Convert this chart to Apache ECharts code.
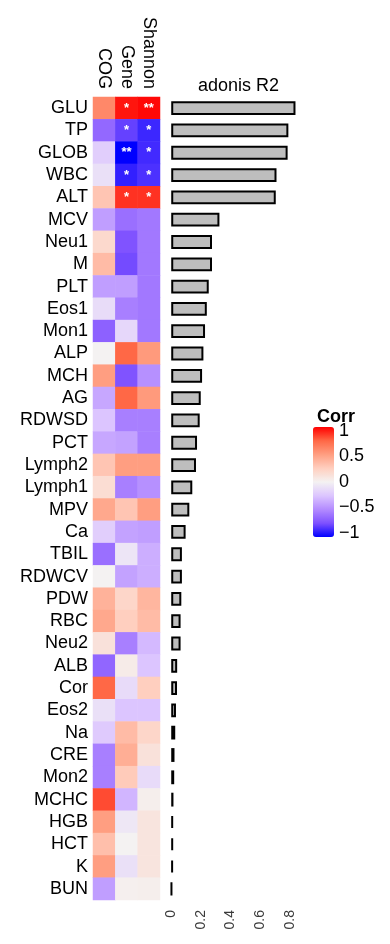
<!DOCTYPE html>
<html>
<head>
<meta charset="utf-8">
<script src="https://cdn.jsdelivr.net/npm/echarts@6/dist/echarts.min.js"></script>
<style>
  html, body { margin: 0; padding: 0; background: #fff; }
  #chart { width: 390px; height: 944px; }
</style>
</head>
<body>
<div id="chart"></div>
<script>
// 指标 vs 多样性 相关热图 + adonis R2 条形图

const columns = ['COG', 'Gene', 'Shannon']
const rows = ['GLU', 'TP', 'GLOB', 'WBC', 'ALT', 'MCV', 'Neu1', 'M', 'PLT', 'Eos1',
  'Mon1', 'ALP', 'MCH', 'AG', 'RDWSD', 'PCT', 'Lymph2', 'Lymph1', 'MPV', 'Ca',
  'TBIL', 'RDWCV', 'PDW', 'RBC', 'Neu2', 'ALB', 'Cor', 'Eos2', 'Na', 'CRE',
  'Mon2', 'MCHC', 'HGB', 'HCT', 'K', 'BUN']

const cogCorr = [0.6, -0.65, -0.2, -0.1, 0.3, -0.42, 0.18, 0.35, -0.42, -0.12,
  -0.68, 0.0, 0.5, -0.38, -0.25, -0.38, 0.3, 0.15, 0.45, -0.2,
  -0.62, 0.0, 0.4, 0.45, 0.12, -0.66, 0.75, -0.1, -0.22, -0.55,
  -0.55, 0.82, 0.5, 0.33, 0.5, -0.42]
const geneCorr = [0.95, -0.8, -1.0, -0.9, 0.88, -0.62, -0.74, -0.77, -0.42, -0.55,
  -0.15, 0.75, -0.74, 0.75, -0.55, -0.4, 0.5, -0.55, 0.3, -0.4,
  -0.07, -0.4, 0.2, 0.25, -0.55, 0.05, -0.13, -0.25, 0.35, 0.42,
  0.27, -0.32, -0.06, 0.0, -0.1, 0.02]
const shannonCorr = [0.98, -0.88, -0.87, -0.85, 0.88, -0.58, -0.58, -0.58, -0.58, -0.58,
  -0.58, 0.52, -0.48, 0.52, -0.55, -0.55, 0.5, -0.48, 0.5, -0.42,
  -0.35, -0.35, 0.38, 0.35, -0.3, -0.25, 0.25, -0.25, 0.2, 0.12,
  -0.13, 0.03, 0.1, 0.1, 0.1, 0.03]

const geneStars = ['*', '*', '**', '*', '*']
const shannonStars = ['**', '*', '*', '*', '*']

const adonisR2 = [0.838, 0.79, 0.785, 0.71, 0.705, 0.325, 0.275, 0.275, 0.253, 0.24,
  0.228, 0.217, 0.208, 0.199, 0.192, 0.174, 0.167, 0.142, 0.122, 0.097,
  0.072, 0.072, 0.068, 0.063, 0.063, 0.04, 0.039, 0.032, 0.027, 0.022,
  0.02, 0.015, 0.013, 0.013, 0.012, 0.003]

const r2Ticks = [0, 0.2, 0.4, 0.6, 0.8]
const corrTicks = [-1, -0.5, 0, 0.5, 1]

const FONT = '"Liberation Sans", Arial, sans-serif'
const corrColors = ['#0000ff', '#7e51ff', '#b38bff', '#dcc5ff', '#f4f2f2',
  '#ffcfbf', '#ff9e81', '#ff6846', '#ff0000']

const heatData = []
const corrCols = [cogCorr, geneCorr, shannonCorr]
const starCols = [[], geneStars, shannonStars]
corrCols.forEach((col, xi) => {
  col.forEach((v, yi) => {
    heatData.push({ value: [xi, yi, v], star: starCols[xi][yi] || '' })
  })
})

const chart = echarts.init(document.getElementById('chart'), null, { renderer: 'canvas' })

chart.setOption({
  backgroundColor: '#fff',
  animation: false,
  textStyle: { fontFamily: FONT },
  title: [
    {
      text: 'adonis R2', left: 233.5, top: 72, textAlign: 'center',
      textStyle: { fontFamily: FONT, fontSize: 18, fontWeight: 'normal', color: '#000' },
    },
    {
      text: 'Corr', left: 312, top: 403,
      textStyle: { fontFamily: FONT, fontSize: 18, fontWeight: 'bold', color: '#000' },
    },
  ],
  grid: [
    { left: 93, top: 97, width: 67, height: 803 },
    { left: 165, top: 97, width: 137, height: 803 },
    { left: 313, top: 431, width: 21, height: 102 },
  ],
  xAxis: [
    {
      gridIndex: 0, type: 'category', data: columns, position: 'top',
      axisLine: { show: false }, axisTick: { show: false }, splitLine: { show: false },
      axisLabel: { interval: 0, rotate: 90, margin: 8, fontSize: 18, color: '#000', fontFamily: FONT },
    },
    {
      gridIndex: 1, type: 'value', min: -0.042, max: 0.882,
      splitLine: { show: false },
      axisLine: { lineStyle: { color: '#000', width: 2 } },
      axisTick: { length: 6, lineStyle: { color: '#000', width: 2 }, customValues: r2Ticks },
      axisLabel: {
        rotate: 90, margin: 10, fontSize: 14, color: '#3a3a3a', fontFamily: FONT,
        customValues: r2Ticks,
      },
    },
    { gridIndex: 2, type: 'value', show: false, min: 0, max: 1 },
  ],
  yAxis: [
    {
      gridIndex: 0, type: 'category', data: rows, inverse: true,
      axisLine: { show: false }, axisTick: { show: false },
      axisLabel: { interval: 0, margin: 5, fontSize: 18, color: '#000', fontFamily: FONT },
    },
    {
      gridIndex: 1, type: 'category', data: rows, inverse: true,
      axisLine: { show: false }, axisTick: { show: false }, axisLabel: { show: false },
    },
    {
      gridIndex: 2, type: 'value', min: -1, max: 1, position: 'right',
      splitLine: { show: false }, axisLine: { show: false },
      axisTick: { inside: true, length: 4, lineStyle: { color: '#fff', width: 1.5 }, customValues: corrTicks },
      axisLabel: {
        margin: 5, fontSize: 18, color: '#000', fontFamily: FONT, customValues: corrTicks,
        formatter: (v) => String(v).replace('-', '\u2212'),
      },
    },
    {
      gridIndex: 2, type: 'value', min: -1, max: 1, position: 'left',
      splitLine: { show: false }, axisLine: { show: false }, axisLabel: { show: false },
      axisTick: { inside: true, length: 4, lineStyle: { color: '#fff', width: 1.5 }, customValues: corrTicks },
    },
  ],
  visualMap: {
    type: 'continuous', min: -1, max: 1, seriesIndex: 0,
    calculable: false, realtime: false, hoverLink: false,
    left: 313, top: 427, itemWidth: 21, itemHeight: 110, padding: 0,
    text: null, showLabel: false,
    inRange: { color: corrColors },
  },
  series: [
    {
      type: 'heatmap', xAxisIndex: 0, yAxisIndex: 0, data: heatData,
      emphasis: { disabled: true },
      label: {
        show: true, color: '#fff', fontSize: 13, fontWeight: 'bold', fontFamily: FONT,
        formatter: (p) => p.data.star,
      },
    },
    {
      type: 'bar', xAxisIndex: 1, yAxisIndex: 1, data: adonisR2,
      barWidth: '62%',
      itemStyle: { color: '#bebebe', borderColor: '#000', borderWidth: 2 },
      emphasis: { disabled: true },
    },
  ],
})
</script>
</body>
</html>
